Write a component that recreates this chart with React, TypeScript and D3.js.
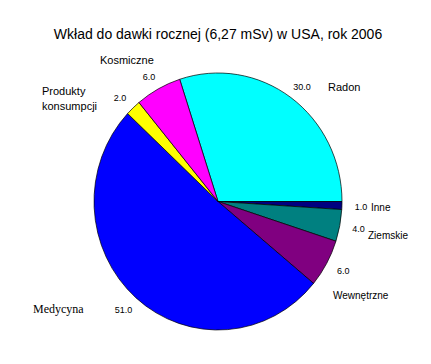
import React from "react";
import * as d3 from "d3";

// categories, clockwise from Radon
const categories = ["Radon", "Inne", "Ziemskie", "Wewnętrzne", "Medycyna", "Produkty konsumpcji", "Kosmiczne"];
const shares = [30.0, 1.0, 4.0, 6.0, 51.0, 2.0, 6.0];
const sliceColors = ["#00FFFF", "#000080", "#008080", "#800080", "#0000FF", "#FFFF00", "#FF00FF"];

const title = "Wkład do dawki rocznej (6,27 mSv) w USA, rok 2006";

// where Excel dropped the category names
const nameSpots: [number, number][] = [
    [328, 91],
    [371, 211],
    [368, 239],
    [333, 299],
    [33, 313],
    [42, 95],
    [100, 64],
];

const W = 431;
const H = 364;
const cx = 218;
const cy = 201.5;
const rx = 124;
const ry = 128.5;

const App = () => {
    const start = -0.1 * Math.PI; // Radon starts a little left of 12 o'clock
    const pie = d3
        .pie<number>()
        .sort(null)
        .startAngle(start)
        .endAngle(start + 2 * Math.PI)
        .value((d) => d);
    const arcs = pie(shares);
    const arc = d3.arc<d3.PieArcDatum<number>>().innerRadius(0).outerRadius(rx);
    const labelR = 143;

    return (
        <svg
            width={W}
            height={H}
            style={{ position: "absolute", left: 0, top: 0, background: "#fff" }}
            fontFamily="'Liberation Sans', Arial, sans-serif"
        >
            <rect width={W} height={H} fill="#fff" />
            <text x={218} y={39} textAnchor="middle" fontSize={14} fill="#000">
                {title}
            </text>
            <g transform={`translate(${cx},${cy}) scale(1,${ry / rx})`}>
                {arcs.map((a, i) => (
                    <path
                        key={i}
                        d={arc(a) || ""}
                        fill={sliceColors[i]}
                        stroke="#000"
                        strokeWidth={0.7}
                        vectorEffect="non-scaling-stroke"
                    />
                ))}
            </g>
            {arcs.map((a, i) => {
                const mid = (a.startAngle + a.endAngle) / 2;
                const x = cx + labelR * Math.sin(mid);
                const y = cy - labelR * Math.cos(mid) + 4;
                return (
                    <text key={"v" + i} x={x} y={y} textAnchor="middle" fontSize={9} fill="#000">
                        {shares[i].toFixed(1)}
                    </text>
                );
            })}
            {categories.map((c, i) => {
                const [x, y] = nameSpots[i];
                if (c === "Medycyna") {
                    return (
                        <text key={"n" + i} x={x} y={y} fontSize={12} fontFamily="'Liberation Serif', 'Times New Roman', serif" fill="#000">
                            {c}
                        </text>
                    );
                }
                const size = y > 150 ? 10 : 11;
                const words = c.split(" ");
                return (
                    <text key={"n" + i} x={x} y={y} fontSize={size} fill="#000">
                        {words.map((w, j) => (
                            <tspan key={j} x={x} dy={j === 0 ? 0 : 15}>
                                {w}
                            </tspan>
                        ))}
                    </text>
                );
            })}
        </svg>
    );
};

export default App;
